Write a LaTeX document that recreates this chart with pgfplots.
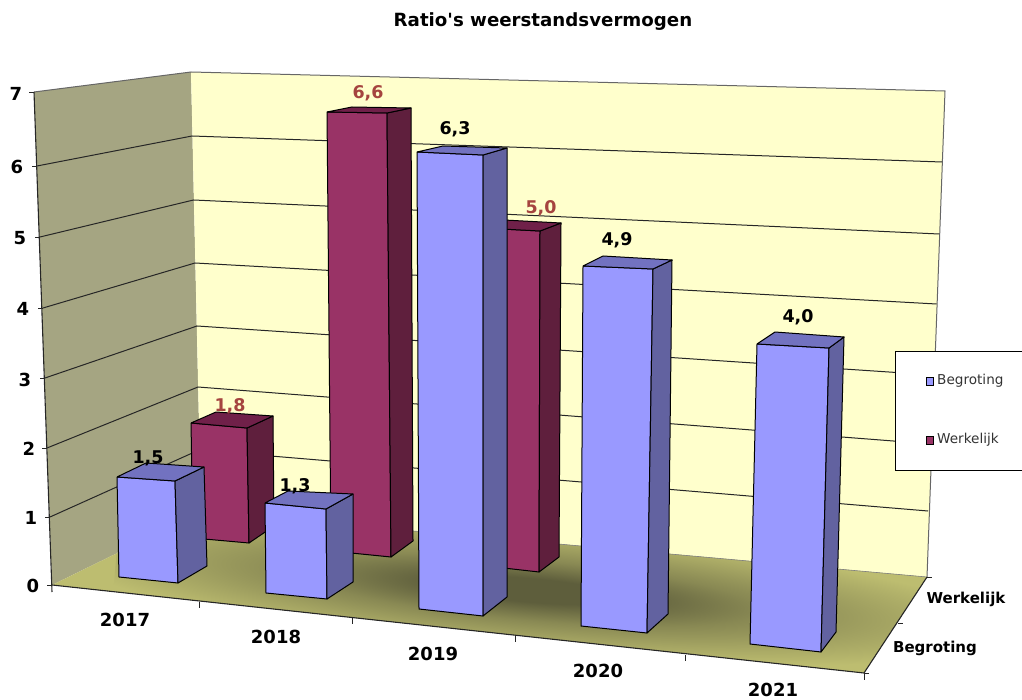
\documentclass[border=0pt]{standalone}
\usepackage{fontspec}
\setmainfont{DejaVu Sans}
\newfontfamily\plainfont{DejaVu Sans}
\usepackage{pgfplots}
\pgfplotsset{compat=1.18}
\definecolor{wallL}{HTML}{A5A582}
\definecolor{wallB}{HTML}{FFFFCC}
\definecolor{floorC}{HTML}{BDBD70}
\definecolor{floorD}{HTML}{5E5E3C}
\definecolor{blueF}{HTML}{9999FF}
\definecolor{blueS}{HTML}{6262A0}
\definecolor{blueT}{HTML}{7272C0}
\definecolor{redF}{HTML}{993366}
\definecolor{redS}{HTML}{5F1F3D}
\definecolor{redT}{HTML}{702049}
\definecolor{redL}{HTML}{A5443F}

\pgfdeclareradialshading{floorshadow}{\pgfpointorigin}{%
  color(0bp)=(floorD); color(5.5bp)=(floorD);
  color(14bp)=(floorD!55!floorC); color(22bp)=(floorD!25!floorC);
  color(29bp)=(floorC); color(50bp)=(floorC)}

% one 3D column: front, side and top face, in picture coordinates
\newcommand{\column}[4]{%
  \addplot[fill=#1F, draw=black, line width=1pt, line join=round] coordinates {#2};
  \addplot[fill=#1S, draw=black, line width=1pt, line join=round] coordinates {#3};
  \addplot[fill=#1T, draw=black, line width=1pt, line join=round] coordinates {#4};
}
\newcommand{\gridln}[3]{\addplot[black!85, line width=1pt] coordinates {#1 #2 #3};}

\begin{document}
\begin{tikzpicture}
\begin{axis}[
    scale only axis, width=1022pt, height=700pt,
    xmin=0, xmax=1022, ymin=0, ymax=700, y dir=reverse,
    hide axis,
]

% walls
\addplot[fill=wallL, draw=none] coordinates {(34,92)(191,72)(201,512)(52,585)(34,92)};
\addplot[fill=wallB, draw=none] coordinates {(191,72)(945,91)(927,577)(201,512)(191,72)};
\addplot[black!60, line width=1pt] coordinates {(34,92)(191,72)(945,91)(927,577)};

% gridlines, value 1 to 6: left wall front, corner, back wall right
\gridln{(37,166)}{(192,136)}{(942,162)}
\gridln{(40,237)}{(193.5,200)}{(939,234)}
\gridln{(43,308)}{(195,263)}{(936.5,304)}
\gridln{(45,378)}{(197,326)}{(934,375)}
\gridln{(47,448)}{(198,387)}{(932,444)}
\gridln{(50,517)}{(199,450)}{(928,511)}

% floor with the soft shadow of the columns
\addplot[fill=floorC, draw=none] coordinates {(52,585)(201,512)(927,577)(864,673)(52,585)};
\begin{scope}
  \clip (axis cs:52,585) -- (axis cs:201,512) -- (axis cs:927,577) -- (axis cs:864,673) -- cycle;
  \shade[shading=floorshadow, transform canvas={rotate around={-5:(axis cs:530,590)}}]
    (axis cs:115,536) rectangle (axis cs:945,644);
\end{scope}
\addplot[black!50, line width=0.6pt] coordinates {(201,512)(927,577)};

% axis lines and ticks
\addplot[black!85, line width=1.1pt] coordinates {(34,92)(52,592)};
\addplot[black!85, line width=1.1pt] coordinates {(52,585)(864,673)(927,577)};
\addplot[black!85, line width=0.8pt] coordinates {(29,92)(34,92)};
\addplot[black!85, line width=0.8pt] coordinates {(32,166)(37,166)};
\addplot[black!85, line width=0.8pt] coordinates {(35,237)(40,237)};
\addplot[black!85, line width=0.8pt] coordinates {(38,308)(43,308)};
\addplot[black!85, line width=0.8pt] coordinates {(40,378)(45,378)};
\addplot[black!85, line width=0.8pt] coordinates {(42,448)(47,448)};
\addplot[black!85, line width=0.8pt] coordinates {(45,517)(50,517)};
\addplot[black!85, line width=0.8pt] coordinates {(47,585)(52,585)};
\addplot[black!85, line width=0.8pt] coordinates {(199,602)(199,608)};
\addplot[black!85, line width=0.8pt] coordinates {(352,618)(352,624)};
\addplot[black!85, line width=0.8pt] coordinates {(515,636)(515,642)};
\addplot[black!85, line width=0.8pt] coordinates {(685,655)(685,661)};
\addplot[black!85, line width=0.8pt] coordinates {(864,673)(864,680)};
\addplot[black!85, line width=0.8pt] coordinates {(864,673)(869,673)};
\addplot[black!85, line width=0.8pt] coordinates {(898,623)(903,623)};
\addplot[black!85, line width=0.8pt] coordinates {(927,577)(932,577)};

% Werkelijk: 1.8, 6.6, 5.0
\column{red}{(191,423)(247,428)(249,543)(193,538)(191,423)}{(247,428)(273,416)(274,526)(249,543)(247,428)}{(191,423)(216,412)(273,416)(247,428)(191,423)}
\column{red}{(327,112)(387,113)(391,557)(331,551)(327,112)}{(387,113)(411,108)(413,541)(391,557)(387,113)}{(327,112)(352,107)(411,108)(387,113)(327,112)}
\column{red}{(482,228)(540,231)(539,572)(486,566)(482,228)}{(540,231)(561,223)(559,557)(539,572)(540,231)}{(482,228)(504,220)(561,223)(540,231)(482,228)}

% Begroting: 1.5, 1.3, 6.3, 4.9, 4.0
\column{blue}{(117,477)(175,481)(178,583)(119,577)(117,477)}{(175,481)(204,467)(207,566)(178,583)(175,481)}{(117,477)(146,463)(204,467)(175,481)(117,477)}
\column{blue}{(265,503)(326,509)(327,599)(266,593)(265,503)}{(326,509)(353,494)(353,582)(327,599)(326,509)}{(265,503)(288,491)(353,494)(326,509)(265,503)}
\column{blue}{(417,152)(483,155)(483,616)(419,609)(417,152)}{(483,155)(507,148)(507,597)(483,616)(483,155)}{(417,152)(443,146)(507,148)(483,155)(417,152)}
\column{blue}{(583,266)(653,269)(647,633)(581,626)(583,266)}{(653,269)(672,260)(668,614)(647,633)(653,269)}{(583,266)(603,256)(672,260)(653,269)(583,266)}
\column{blue}{(757,344)(829,348)(821,652)(750,644)(757,344)}{(829,348)(844,337)(836,632)(821,652)(829,348)}{(757,344)(775,332)(844,337)(829,348)(757,344)}

% value labels
\begin{scope}[every node/.style={font=\bfseries\fontsize{17.5}{18}\selectfont, inner sep=0pt}]
\node[redL] at (axis cs:230,406) {1,8};
\node[redL] at (axis cs:368,93) {6,6};
\node[redL] at (axis cs:541,208) {5,0};
\node at (axis cs:148,458) {1,5};
\node at (axis cs:295,486) {1,3};
\node at (axis cs:455,129) {6,3};
\node at (axis cs:617,240) {4,9};
\node at (axis cs:798,317) {4,0};
\end{scope}
% axis labels
\begin{scope}[every node/.style={font=\bfseries\fontsize{18}{18}\selectfont, inner sep=0pt}]
\node at (axis cs:16,94) {7};
\node at (axis cs:17,167) {6};
\node at (axis cs:20,238) {5};
\node at (axis cs:23,309) {4};
\node at (axis cs:25,380) {3};
\node at (axis cs:29,449) {2};
\node at (axis cs:31,518) {1};
\node at (axis cs:33,586) {0};
\node at (axis cs:125,620) {2017};
\node at (axis cs:276,637) {2018};
\node at (axis cs:433,654) {2019};
\node at (axis cs:598,671) {2020};
\node at (axis cs:773,690) {2021};
\end{scope}
\node[font=\bfseries\fontsize{15}{15}\selectfont, inner sep=0pt] at (axis cs:966,599) {Werkelijk};
\node[font=\bfseries\fontsize{15}{15}\selectfont, inner sep=0pt] at (axis cs:935,648) {Begroting};
\node[font=\plainfont\bfseries\fontsize{18.2}{18}\selectfont, inner sep=0pt] at (axis cs:543,22) {Ratio's weerstandsvermogen};

% legend
\addplot[fill=white, draw=black, line width=1pt] coordinates {(1022,351)(895,351)(895,470)(1022,470)};
\addplot[fill=blueF, draw=black, line width=0.7pt] coordinates {(926,377)(933,377)(933,385)(926,385)(926,377)};
\addplot[fill=redF, draw=black, line width=0.7pt] coordinates {(926,436)(933,436)(933,444)(926,444)(926,436)};
\node[anchor=west, font=\fontsize{13.6}{14}\selectfont, black!80, inner sep=0pt] at (axis cs:937,381) {Begroting};
\node[anchor=west, font=\fontsize{13.6}{14}\selectfont, black!80, inner sep=0pt] at (axis cs:937,440) {Werkelijk};
\end{axis}
\pgfresetboundingbox
\useasboundingbox (0,0) rectangle (1022pt,700pt);
\end{tikzpicture}
\end{document}
